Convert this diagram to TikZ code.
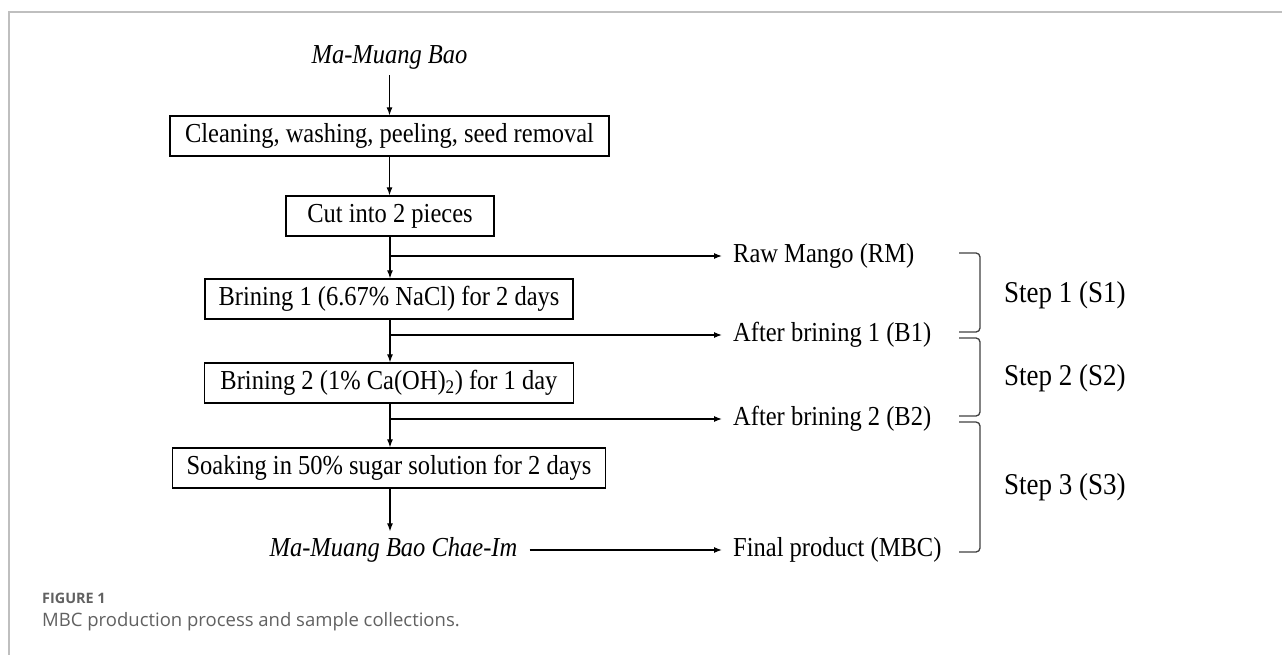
\documentclass[tikz,border=0pt]{standalone}
\usepackage{fontspec}
\setmainfont{Liberation Serif}
\newfontfamily\capfont{Open Sans}
\usetikzlibrary{arrows.meta}
\newcommand\tallt[1]{\scalebox{1}[1.12]{#1}}
\begin{document}
\begin{tikzpicture}[x=1pt,y=-1pt,
  txt/.style={font=\fontsize{24.5}{28}\selectfont, inner sep=0pt},
  itxt/.style={txt, font=\fontsize{24.5}{28}\selectfont\itshape},
  box/.style={txt, draw, line width=1.3pt, minimum height=40pt},
  sample/.style={txt, anchor=west},
  steplbl/.style={font=\fontsize{27}{30}\selectfont, inner sep=0pt, anchor=west},
  conn/.style={line width=1.2pt},
  arr/.style={conn, -{Latex[length=8pt,width=6pt]}},
  brk/.style={line width=1.3pt, draw=black!75, rounded corners=4pt}
]
\useasboundingbox (0,0) rectangle (1282,655);
\draw[black!25, line width=1.5pt] (9,655) -- (9,12) -- (1283,12);

% main flow
\node[itxt] (mmb) at (389.5,57) {\tallt{Ma-Muang Bao}};
\node[box, minimum width=439pt] (b1) at (389.5,136) {\tallt{Cleaning, washing, peeling, seed removal}};
\node[box, minimum width=208pt] (b2) at (390,216) {\tallt{Cut into 2 pieces}};
\node[box, minimum width=368pt] (b3) at (389,299) {\tallt{Brining 1 (6.67\% NaCl) for 2 days}};
\node[box, minimum width=369pt] (b4) at (389,383) {\tallt{Brining 2 (1\% Ca(OH)\textsubscript{2}) for 1 day}};
\node[box, minimum width=433pt] (b5) at (389,468) {\tallt{Soaking in 50\% sugar solution for 2 days}};
\node[itxt] (chae) at (393.5,550) {\tallt{Ma-Muang Bao Chae-Im}};

% sample labels
\node[sample] (rm) at (733,256) {\tallt{Raw Mango (RM)}};
\node[sample] (sb1) at (733,335) {\tallt{After brining 1 (B1)}};
\node[sample] (sb2) at (733,419) {\tallt{After brining 2 (B2)}};
\node[sample] (fin) at (733,550) {\tallt{Final product (MBC)}};

% vertical arrows
\draw[arr] ([yshift=-6pt]mmb.south) -- (b1.north -| mmb);
\draw[arr] (b1.south) -- (b1.south |- b2.north);
\draw[arr] (b2.south) -- (b2.south |- b3.north);
\draw[arr] (b3.south -| b2.south) -- (b2.south |- b4.north);
\draw[arr] (b4.south -| b2.south) -- (b2.south |- b5.north);
\draw[arr] (b5.south -| b2.south) -- ([yshift=6pt]b2.south |- chae.north);

% branches
\draw[arr] (b2.south |- rm.west) -- ([xshift=-11pt]rm.west);
\draw[arr] (b2.south |- sb1.west) -- ([xshift=-11pt]sb1.west);
\draw[arr] (b2.south |- sb2.west) -- ([xshift=-11pt]sb2.west);
\draw[arr] ([xshift=12pt]chae.east) -- ([xshift=-11pt]fin.west);

% brackets
\coordinate (k1a) at (959,253);
\coordinate (k1b) at (959,332);
\coordinate (k2a) at (959,338);
\coordinate (k2b) at (959,416);
\coordinate (k3a) at (959,422);
\coordinate (k3b) at (959,552);
\draw[brk] (k1a) -- ++(21,0) -- ++(0,79) -- (k1b);
\draw[brk] (k2a) -- ++(21,0) -- ++(0,78) -- (k2b);
\draw[brk] (k3a) -- ++(21,0) -- ++(0,130) -- (k3b);
\node[steplbl] (s1) at (1004,295) {\tallt{Step 1 (S1)}};
\node[steplbl] (s2) at (1004,378) {\tallt{Step 2 (S2)}};
\node[steplbl] (s3) at (1004,487) {\tallt{Step 3 (S3)}};

% caption
\node[anchor=west, inner sep=0pt, text=black!62, font=\capfont\bfseries\fontsize{14.4}{17}\selectfont] (fig) at (42,598) {FIGURE 1};
\node[anchor=west, inner sep=0pt, text=black!62, font=\capfont\fontsize{18.5}{22}\selectfont] (cap) at (42,622) {MBC production process and sample collections.};
\end{tikzpicture}
\end{document}
